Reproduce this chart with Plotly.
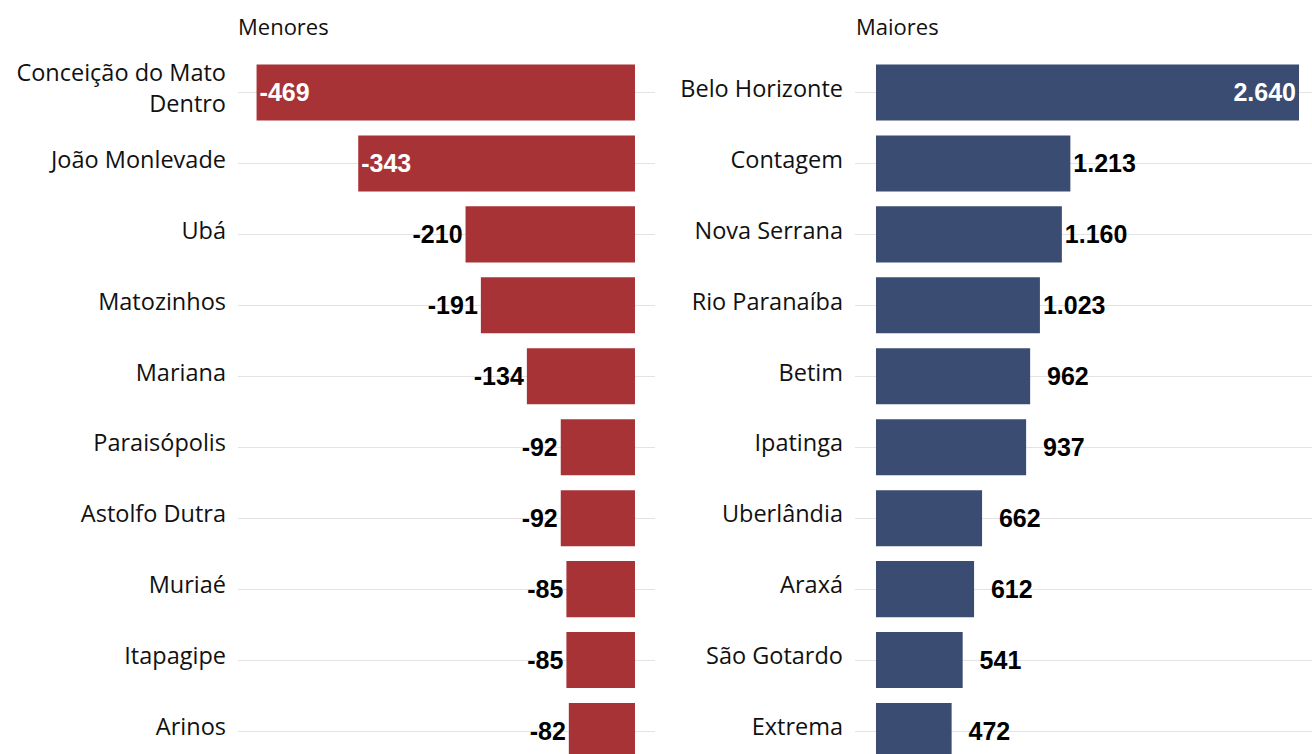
import plotly.graph_objects as go
from plotly.subplots import make_subplots

menores_cidades = ["Conceição do Mato<br>Dentro", "João Monlevade", "Ubá", "Matozinhos", "Mariana",
                   "Paraisópolis", "Astolfo Dutra", "Muriaé", "Itapagipe", "Arinos"]
menores_valores = [-469, -343, -210, -191, -134, -92, -92, -85, -85, -82]

maiores_cidades = ["Belo Horizonte", "Contagem", "Nova Serrana", "Rio Paranaíba", "Betim",
                   "Ipatinga", "Uberlândia", "Araxá", "São Gotardo", "Extrema"]
maiores_valores = [2640, 1213, 1160, 1023, 962, 937, 662, 612, 541, 472]

RED = "#A83336"
BLUE = "#3A4C72"
NUMFONT = "Liberation Sans"
NUMSIZE = 25
CATFONT = "Open Sans"
NBSP = "\u00a0"

def fmt(v):
    return f"{v:,}".replace(",", ".")

def label_texts(vals, n_inside, pad_right_side):
    out = []
    for i, v in enumerate(vals):
        s = fmt(v)
        if pad_right_side and i >= n_inside and abs(v) < 1000:
            s = NBSP * 2 + s
        out.append(s)
    return out

def positions(vals, n_inside):
    return ["inside" if i < n_inside else "outside" for i in range(len(vals))]

fig = make_subplots(rows=1, cols=2, horizontal_spacing=0.05)

fig.add_trace(go.Bar(
    x=menores_valores, y=menores_cidades, orientation="h",
    marker=dict(color=RED, line=dict(width=0)),
    text=label_texts(menores_valores, 2, False), textposition=positions(menores_valores, 2),
    insidetextanchor="end",
    outsidetextfont=dict(family=NUMFONT, size=NUMSIZE, color="black", weight="bold"),
    insidetextfont=dict(family=NUMFONT, size=NUMSIZE, color="white", weight="bold"),
    textfont=dict(family=NUMFONT, size=NUMSIZE, weight="bold"),
    cliponaxis=False, showlegend=False, hoverinfo="skip",
), row=1, col=1)

fig.add_trace(go.Bar(
    x=maiores_valores, y=maiores_cidades, orientation="h",
    marker=dict(color=BLUE, line=dict(width=0)),
    text=label_texts(maiores_valores, 1, True), textposition=positions(maiores_valores, 1),
    insidetextanchor="end",
    outsidetextfont=dict(family=NUMFONT, size=NUMSIZE, color="black", weight="bold"),
    insidetextfont=dict(family=NUMFONT, size=NUMSIZE, color="white", weight="bold"),
    textfont=dict(family=NUMFONT, size=NUMSIZE, weight="bold"),
    cliponaxis=False, showlegend=False, hoverinfo="skip",
), row=1, col=2)

W, H = 1312, 754
top = 56.5
yrange = [(H - 92) / 71.0, -0.5]
plot_h = H - top

yax = dict(range=yrange, showgrid=True, gridcolor="#E3E3E3", gridwidth=1,
           showline=False, zeroline=False, ticks="", ticklabelstandoff=11,
           ticklabelshift=4,
           tickfont=dict(family=CATFONT, size=23.5, color="#111111"))

fig.update_layout(
    width=W, height=H,
    margin=dict(l=0, r=0, t=top, b=0),
    plot_bgcolor="white", paper_bgcolor="white",
    bargap=0.21,
    font=dict(family=CATFONT, color="#111111"),
    xaxis=dict(domain=[238 / W, 655 / W], range=[-492, 24.8], visible=False, fixedrange=True),
    xaxis2=dict(domain=[855 / W, 1.0], range=[-131, 2721], visible=False, fixedrange=True),
    yaxis=yax,
    yaxis2=yax,
    annotations=[
        dict(text="Menores", x=238 / W, y=(H - 25) / plot_h, xref="paper", yref="paper",
             showarrow=False, xanchor="left", yanchor="middle", xshift=-2,
             font=dict(family=CATFONT, size=22, color="#111111")),
        dict(text="Maiores", x=856 / W, y=(H - 25) / plot_h, xref="paper", yref="paper",
             showarrow=False, xanchor="left", yanchor="middle", xshift=-2,
             font=dict(family=CATFONT, size=22, color="#111111")),
    ],
)

fig.write_html("out.html", config={"displayModeBar": False},
               post_script="document.body.style.margin='0';")
